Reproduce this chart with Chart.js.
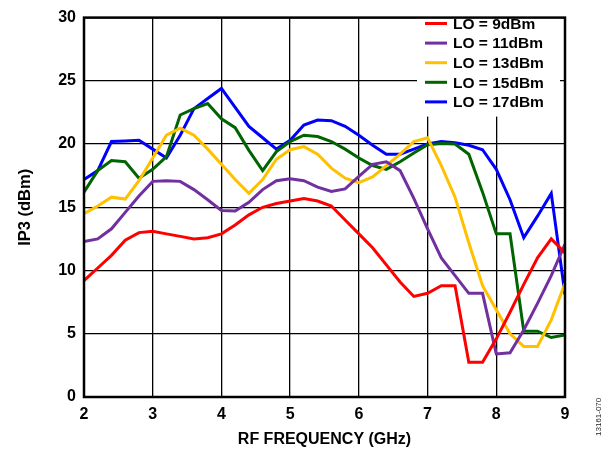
<!DOCTYPE html>
<html>
<head>
<meta charset="utf-8">
<script src="https://cdn.jsdelivr.net/npm/chart.js@4/dist/chart.umd.min.js"></script>
<style>
  html, body { margin: 0; padding: 0; background: #fff; }
  #wrap { position: relative; width: 607px; height: 449px; }
  #side { position: absolute; left: 594px; top: 396px; width: 12px; height: 40px;
          font: 8px "Liberation Sans", Arial, sans-serif; color: #222;
          writing-mode: vertical-rl; transform: rotate(180deg); white-space: nowrap; }
</style>
</head>
<body>
<div id="wrap">
  <canvas id="mycanvas" width="607" height="449"></canvas>
  <div id="side">13161-070</div>
</div>
<script>
var freq = [2.0, 2.2, 2.4, 2.6, 2.8, 3.0, 3.2, 3.4, 3.6, 3.8, 4.0, 4.2, 4.4, 4.6, 4.8, 5.0, 5.2, 5.4,
            5.6, 5.8, 6.0, 6.2, 6.4, 6.6, 6.8, 7.0, 7.2, 7.4, 7.6, 7.8, 8.0, 8.2, 8.4, 8.6, 8.8, 9.0];

var lo9 = [9.2, 10.2, 11.2, 12.4, 13.0, 13.1, 12.9, 12.7, 12.5, 12.6, 12.9, 13.6, 14.4, 15.0, 15.3, 15.5, 15.7, 15.5,
           15.1, 14.0, 12.9, 11.8, 10.45, 9.1, 7.95, 8.2, 8.8, 8.8, 2.75, 2.75, 4.6, 6.7, 8.9, 11.0, 12.5, 11.4];
var lo11 = [12.3, 12.5, 13.3, 14.6, 15.9, 17.05, 17.1, 17.05, 16.4, 15.6, 14.75, 14.7, 15.4, 16.4, 17.1, 17.25, 17.1, 16.6,
            16.25, 16.45, 17.45, 18.4, 18.6, 17.9, 15.7, 13.3, 11.0, 9.6, 8.2, 8.2, 3.4, 3.5, 5.3, 7.4, 9.6, 12.1];
var lo13 = [14.5, 15.1, 15.8, 15.65, 17.1, 18.9, 20.7, 21.25, 20.7, 19.6, 18.4, 17.2, 16.1, 17.2, 18.8, 19.55, 19.8, 19.2,
            18.1, 17.3, 16.95, 17.4, 18.3, 19.2, 20.2, 20.5, 18.3, 15.8, 12.2, 8.8, 6.9, 5.0, 4.0, 4.0, 6.1, 9.0];
var lo15 = [16.2, 17.9, 18.7, 18.6, 17.3, 18.0, 19.0, 22.3, 22.8, 23.2, 22.0, 21.3, 19.5, 17.9, 19.4, 20.2, 20.7, 20.6,
            20.2, 19.6, 18.9, 18.3, 18.0, 18.6, 19.3, 19.95, 20.05, 20.0, 19.2, 16.2, 12.9, 12.9, 5.2, 5.2, 4.7, 4.9];
var lo17 = [17.2, 17.9, 20.2, 20.25, 20.3, 19.6, 18.9, 20.7, 22.8, 23.6, 24.4, 22.9, 21.4, 20.5, 19.6, 20.3, 21.5, 21.9,
            21.85, 21.4, 20.7, 19.9, 19.2, 19.2, 19.6, 20.0, 20.2, 20.1, 19.9, 19.55, 18.0, 15.6, 12.6, 14.3, 16.1, 8.1];

var seriesNames = ['LO = 9dBm', 'LO = 11dBm', 'LO = 13dBm', 'LO = 15dBm', 'LO = 17dBm'];
var seriesColors = ['#ff0000', '#7030a0', '#ffc000', '#006400', '#0000ff'];
var seriesData = [lo9, lo11, lo13, lo15, lo17];

var fontName = '"Liberation Sans", Arial, sans-serif';

function pts(vals) {
  var out = [];
  for (var i = 0; i < freq.length; i++) {
    out.push({x: freq[i], y: vals[i]});
  }
  return out;
}

var datasets = [];
for (var s = 0; s < seriesData.length; s++) {
  datasets.push({
    label: seriesNames[s],
    data: pts(seriesData[s]),
    borderColor: seriesColors[s],
    backgroundColor: seriesColors[s],
    borderWidth: 3,
    pointRadius: 0,
    tension: 0,
    fill: false
  });
}

// white legend box in the top right corner, then the thick frame
var boxPlugin = {
  id: 'boxPlugin',
  afterDatasetsDraw: function(chart) {
    var ctx = chart.ctx;
    var a = chart.chartArea;
    ctx.save();
    ctx.fillStyle = '#fff';
    ctx.fillRect(417, a.top, 143, 99);
    ctx.font = 'bold 15.5px ' + fontName;
    ctx.textBaseline = 'middle';
    ctx.textAlign = 'left';
    chart.data.datasets.forEach(function(ds, i) {
      var y = 23.5 + i * 19.6;
      ctx.strokeStyle = ds.borderColor;
      ctx.lineWidth = 3;
      ctx.beginPath();
      ctx.moveTo(425, y);
      ctx.lineTo(447, y);
      ctx.stroke();
      ctx.fillStyle = '#000';
      ctx.fillText(ds.label, 453, y + 1);
    });
    ctx.strokeStyle = '#000';
    ctx.lineWidth = 2.5;
    ctx.strokeRect(a.left, a.top, a.right - a.left, a.bottom - a.top);
    ctx.restore();
  }
};

var ctx = document.getElementById('mycanvas');

var chart = new Chart(ctx, {
  type: 'line',
  data: { datasets: datasets },
  plugins: [boxPlugin],
  options: {
    responsive: false,
    animation: false,
    layout: { padding: { left: 0, right: 42, top: 13, bottom: 0 } },
    plugins: {
      legend: { display: false },
      tooltip: { enabled: false }
    },
    scales: {
      x: {
        type: 'linear',
        min: 2,
        max: 9,
        afterFit: function(scale) { scale.height = 52; },
        ticks: {
          stepSize: 1,
          padding: 8,
          color: '#000',
          font: { family: fontName, size: 16, weight: 'bold' }
        },
        grid: { color: '#000', lineWidth: 1.3, drawTicks: false },
        border: { display: false },
        title: {
          display: true,
          text: 'RF FREQUENCY (GHz)',
          color: '#000',
          font: { family: fontName, size: 16, weight: 'bold' },
          padding: { top: 0, bottom: 0 }
        }
      },
      y: {
        min: 0,
        max: 30,
        afterFit: function(scale) { scale.width = 84; },
        ticks: {
          stepSize: 5,
          padding: 8,
          color: '#000',
          font: { family: fontName, size: 16, weight: 'bold' }
        },
        grid: { color: '#000', lineWidth: 1.3, drawTicks: false },
        border: { display: false },
        title: {
          display: true,
          text: 'IP3 (dBm)',
          color: '#000',
          font: { family: fontName, size: 16.5, weight: 'bold' },
          padding: { top: 16, bottom: 0 }
        }
      }
    }
  }
});
</script>
</body>
</html>
